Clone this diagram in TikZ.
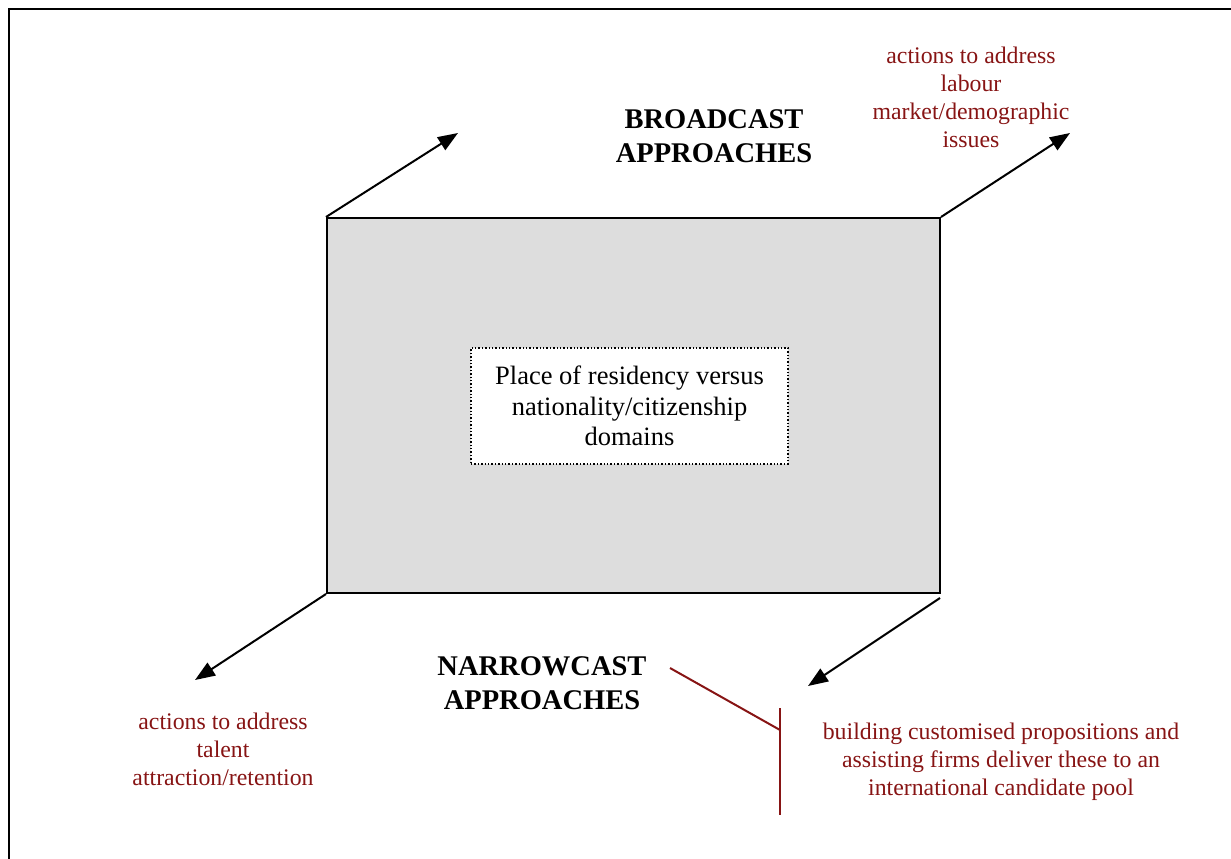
\documentclass[tikz,border=0pt]{standalone}
\usepackage{fontspec}
\setmainfont{Liberation Serif}
\usetikzlibrary{arrows.meta}
\definecolor{lblred}{RGB}{135,20,20}
\definecolor{boxgrey}{RGB}{221,221,221}
\begin{document}
\begin{tikzpicture}[x=1pt,y=-1pt,
  frame/.style={line width=2.5pt},
  arr/.style={line width=2pt,-{Triangle[length=20pt,width=15pt]}},
  redline/.style={draw=lblred,line width=2pt},
  redtxt/.style={text=lblred,align=center,font=\fontsize{23.8}{28}\selectfont,inner sep=0pt},
  headtxt/.style={align=center,font=\fontsize{28.5}{34}\selectfont\bfseries,inner sep=0pt},
  bigbox/.style={draw,line width=2pt,fill=boxgrey,minimum width=613pt,minimum height=375pt,inner sep=0pt},
  dotbox/.style={draw,dotted,line width=1.4pt,fill=white,minimum width=317pt,minimum height=116pt,align=center,font=\fontsize{26.5}{30.5}\selectfont,inner sep=0pt}]
\useasboundingbox (0,0) rectangle (1231,859);
% outer frame (top and left)
\draw[frame] (9,859) -- (9,9) -- (1231,9);
% main box
\node[bigbox] (main) at (633.5,405.5) {};
\node[dotbox] (core) at (629.5,406) {Place of residency versus\\nationality/citizenship\\domains};
% arrow end points
\coordinate (tl) at (458,133);
\coordinate (tr) at (1070,133);
\coordinate (bl) at (195,680);
\coordinate (brs) at (940,598);
\coordinate (br) at (808,686);
\draw[arr] (main.north west) -- (tl);
\draw[arr] (main.north east) -- (tr);
\draw[arr] (main.south west) -- (bl);
\draw[arr] (brs) -- (br);
% headings
\node[headtxt] (broad) at (714,136) {BROADCAST\\APPROACHES};
\node[headtxt] (narrow) at (542,683) {NARROWCAST\\APPROACHES};
% red labels
\node[redtxt] (lab) at (971,97) {actions to address\\labour\\market/demographic\\issues};
\node[redtxt] (tal) at (223,749) {actions to address\\talent\\attraction/retention};
\node[redtxt] (bld) at (1001,762) {building customised propositions and\\assisting firms deliver these to an\\international candidate pool};
% red bracket
\coordinate (rl1) at (670,668);
\coordinate (rj) at (780,730);
\coordinate (rv1) at (780,708);
\coordinate (rv2) at (780,815);
\draw[redline] (rl1) -- (rj);
\draw[redline] (rv1) -- (rv2);
\end{tikzpicture}
\end{document}
